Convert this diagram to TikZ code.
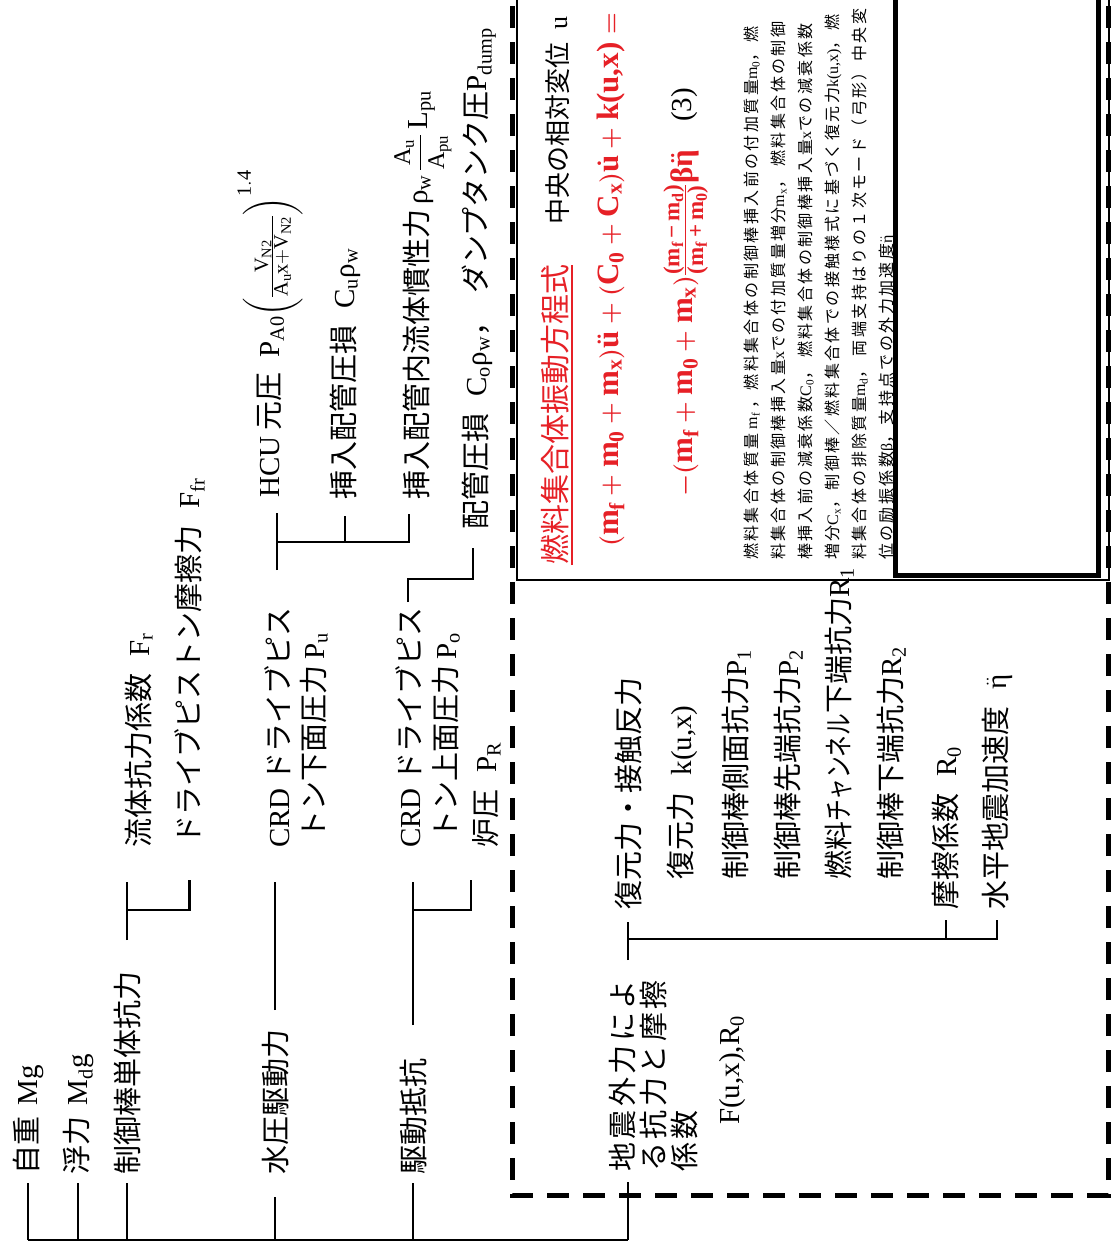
\documentclass[tikz,border=0pt]{standalone}
\usepackage{fontspec}
\usepackage{amsmath}
\usepackage{graphicx}
\usetikzlibrary{positioning}
\setmainfont{Liberation Serif}
\newfontfamily\jp{Noto Sans CJK JP}
\newfontfamily\jpsp[LetterSpace=15]{Noto Sans CJK JP}
\newfontfamily\jpw[LetterSpace=12]{Noto Sans CJK JP}
\definecolor{eqred}{RGB}{230,32,38}
\newcommand{\lat}[1]{{\rmfamily #1}}
\newcommand{\mb}[2]{\text{#1}_{\text{#2}}}
\newcommand{\etadd}{$\ddot{\text{η}}$}
\newcommand{\fracpart}[1]{\text{\fontsize{23}{27}\selectfont #1}}

\begin{document}
\begin{tikzpicture}[
    x=1pt, y=-1pt,
    lbl/.style={rotate=90, anchor=base west, inner sep=0pt, font=\jp\fontsize{29}{35}\selectfont},
    widelbl/.style={lbl, font=\jpw\fontsize{29}{35}\selectfont},
    note/.style={lbl, font=\jpsp\fontsize{16}{20}\selectfont},
    eqline/.style={lbl, text=eqred, font=\rmfamily\bfseries\boldmath\fontsize{31}{37}\selectfont},
    tree/.style={line width=2.2pt},
    dashbox/.style={line width=5pt, dash pattern=on 22pt off 14pt},
]
\useasboundingbox (0,0) rectangle (1115,1243);
\clip (0,0) rectangle (1115,1243);

% Frames
\draw[dashbox] (512,-30) -- (512,1195) -- (1108,1195) -- (1108,-30);
\draw[line width=1.3pt] (517,-30) -- (517,580) -- (1109,580) -- (1109,-30);
\draw[line width=5pt] (895,-30) -- (895,575) -- (1098,575) -- (1098,-30);

% First level
\node[lbl] (jiju) at (37,1175) {自重\hspace{.4em}\lat{Mg}};
\node[lbl] (fury) at (87,1175) {浮力\hspace{.4em}\lat{M\textsubscript{d}g}};
\node[lbl] (seigyo) at (138,1175) {制御棒単体抗力};
\node[lbl] (suiatsu) at (286,1175) {水圧駆動力};
\node[lbl] (kudo) at (424,1175) {駆動抵抗};
\node[widelbl] (jishin) at (633,1172) {地震外力によ};
\node[widelbl] (jishinb) at (664,1172) {る抗力と摩擦};
\node[widelbl] (jishinc) at (695,1172) {係数};
\node[lbl] (jishinf) at (739,1125) {\lat{F(u,x),R\textsubscript{0}}};

% Second level
\node[lbl] (ryutai) at (149,848) {流体抗力係数\hspace{.6em}\lat{F\textsubscript{r}}};
\node[lbl] (drive) at (199,845) {ドライブピストン摩擦力\hspace{.6em}\lat{F\textsubscript{fr}}};
\node[lbl] (crd1) at (289,848) {\lat{CRD} ドライブピス};
\node[lbl] (crd1b) at (324,840) {トン下面圧力\ \lat{P\textsubscript{u}}};
\node[lbl] (crd2) at (420,848) {\lat{CRD} ドライブピス};
\node[lbl] (crd2b) at (456,840) {トン上面圧力\ \lat{P\textsubscript{o}}};
\node[lbl] (roatsu) at (496,848) {炉圧\hspace{.6em}\lat{P\textsubscript{R}}};

% Third level
\node[lbl] (hcu) at (279,498) {\lat{HCU} 元圧\hspace{.5em}$\mathrm{P_{A0}}\biggl(\frac{\mathrm{V_{N2}}}{\mathrm{A_u x{+}V_{N2}}}\biggr)^{\mathrm{1.4}}$};
\node[lbl] (sounyu) at (354,500) {挿入配管圧損\hspace{.6em}\lat{C\textsubscript{u}ρ\textsubscript{w}}};
\node[lbl] (kansei) at (427,500) {挿入配管内流体慣性力\lat{\,ρ\textsubscript{w}}\hspace{.15em}{\fontsize{24}{28}\selectfont$\dfrac{\mathrm{A_u}}{\mathrm{A_{pu}}}$}\hspace{.15em}\lat{L\textsubscript{pu}}};
\node[lbl] (haikan) at (486,530) {配管圧損\hspace{.6em}\lat{C\textsubscript{o}ρ\textsubscript{w}}，\hspace{.5em}ダンプタンク圧\lat{P\textsubscript{dump}}};

% Seismic branch
\node[lbl] (fukugen) at (639,910) {復元力・接触反力};
\node[lbl] (fk) at (691,880) {復元力\hspace{.6em}\lat{k(u,x)}};
\node[lbl] (p1) at (746,880) {制御棒側面抗力\lat{P\textsubscript{1}}};
\node[lbl] (p2) at (798,880) {制御棒先端抗力\lat{P\textsubscript{2}}};
\node[lbl] (r1) at (849,880) {燃料\scalebox{0.75}[1]{チャンネル}下端抗力\lat{R\textsubscript{1}}};
\node[lbl] (r2) at (901,880) {制御棒下端抗力\lat{R\textsubscript{2}}};
\node[lbl] (masatsu) at (956,910) {摩擦係数\hspace{.6em}\lat{R\textsubscript{0}}};
\node[lbl] (suihei) at (1006,910) {水平地震加速度\hspace{.6em}\lat{\etadd}};

% Equation box
\node[lbl, text=eqred, font=\jp\fontsize{30}{36}\selectfont] (title) at (566,565) {燃料集合体振動方程式};
\draw[eqred, line width=2pt] ([xshift=3pt]title.south west) -- ([xshift=3pt]title.south east);
\node[lbl, font=\jp\fontsize{26}{32}\selectfont] (chuou) at (567,225) {中央の相対変位\hspace{.5em}\lat{u}};
\node[eqline] (eqa) at (618,547) {$(\mb mf+\mb m0+\mb mx)\ddot{\text{u}}+(\mb C0+\mb Cx)\dot{\text{u}}+\text{k(u,x)}=$};
\node[eqline] (eqb) at (692,497) {$-(\mb mf+\mb m0+\mb mx)\frac{\fracpart{(m\textsubscript{f}\,−\,m\textsubscript{d})}}{\fracpart{(m\textsubscript{f}\,+\,m\textsubscript{0})}}\text{β}\ddot{\text{η}}$};
\node[lbl, font=\rmfamily\fontsize{29}{35}\selectfont] (eqno) at (691,122) {(3)};

\node[note] (n1) at (757,560) {燃料集合体質量\lat{\ m\textsubscript{f}\ }，燃料集合体の制御棒挿入前の付加質量\lat{m\textsubscript{0}}，燃};
\node[note] (n2) at (784,560) {料集合体の制御棒挿入量\lat{x}での付加質量増分\lat{m\textsubscript{x}}，\ 燃料集合体の制御};
\node[note] (n3) at (811,560) {棒挿入前の減衰係数\lat{C\textsubscript{0}}，\ 燃料集合体の制御棒挿入量\lat{x}での減衰係数};
\node[note] (n4) at (838,560) {増分\lat{C\textsubscript{x}}，制御棒／燃料集合体での接触様式に基づく復元力\lat{k(u,x)}，燃};
\node[note] (n5) at (865,560) {料集合体の排除質量\lat{m\textsubscript{d}}，\ 両端支持はりの１次モード（弓形）中央変};
\node[note] (n6) at (892,560) {位の励振係数\lat{β}，支持点での外力加速度\lat{\etadd}};

% Tree connectors
\coordinate (roatsuX) at ([xshift=-25pt]roatsu.base west);
\coordinate (haikanX) at ([xshift=-13pt]haikan.base west);
\coordinate (kanseiX) at ([xshift=-18pt]kansei.base west);

\foreach \n in {jiju,fury,seigyo,kudo}
  \draw[tree] (\n.west |- 0,1183) -- (\n.west |- 0,1240);
\draw[tree] (suiatsu.west |- 0,1197) -- (suiatsu.west |- 0,1240);
\draw[tree] (fukugen.west |- 0,1182) -- (fukugen.west |- 0,1240);
\draw[tree] (jiju.west |- 0,1240) -- (fukugen.west |- 0,1240);

\draw[tree] (seigyo.east |- 0,940) -- (seigyo.east |- 0,882);
\draw[tree] (seigyo.east |- 0,910) -| (drive.west |- 0,880);
\draw[tree] (suiatsu.east |- 0,1010) -- (suiatsu.east |- 0,882);
\draw[tree] (kudo.east |- 0,1025) -- (kudo.east |- 0,882);
\draw[tree] (kudo.east |- 0,910) -| (roatsuX |- 0,880);

\draw[tree] (crd1.east |- 0,570) -- (crd1.east |- 0,513);
\draw[tree] (crd1.east |- 0,542) -| (kanseiX |- 0,514);
\draw[tree] (sounyu.west |- 0,542) -- (sounyu.west |- 0,516);
\draw[tree] (crd2.east |- 0,602) |- (haikanX |- 0,579) -- (haikanX |- 0,548);

\draw[tree] (fukugen.west |- 0,960) -- (fukugen.west |- 0,922);
\draw[tree] (fukugen.west |- 0,939) -| (suihei.west |- 0,920);
\draw[tree] (masatsu.west |- 0,939) -- (masatsu.west |- 0,920);

\end{tikzpicture}
\end{document}
